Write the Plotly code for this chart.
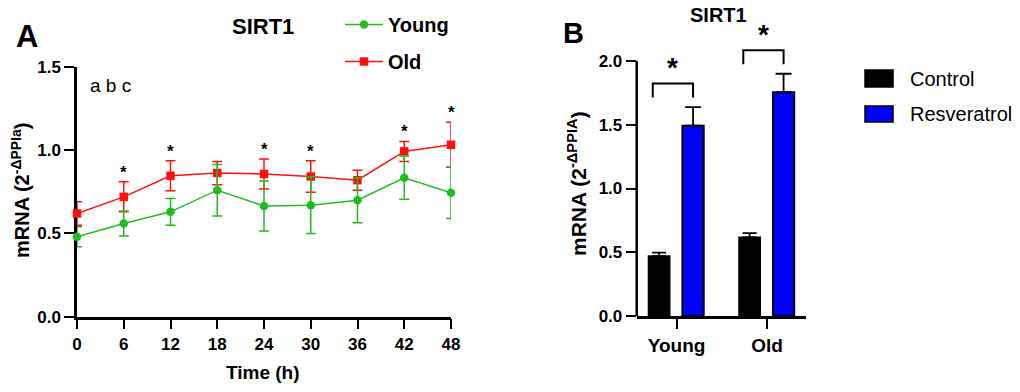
import plotly.graph_objects as go

# ---------------- data ----------------
times = [0, 6, 12, 18, 24, 30, 36, 42, 48]
young_mean = [0.48, 0.56, 0.63, 0.76, 0.665, 0.67, 0.70, 0.835, 0.745]
young_err = [0.06, 0.075, 0.08, 0.155, 0.15, 0.17, 0.135, 0.13, 0.155]
old_mean = [0.62, 0.72, 0.847, 0.863, 0.857, 0.842, 0.82, 0.993, 1.033]
old_err = [0.07, 0.09, 0.09, 0.07, 0.09, 0.095, 0.06, 0.06, 0.135]
sig_times = [6, 12, 24, 30, 42, 48]

groups = ["Young", "Old"]
control_mean = [0.47, 0.617]
control_err = [0.027, 0.033]
resv_mean = [1.493, 1.755]
resv_err = [0.145, 0.145]

a_yticks = [0, 0.5, 1.0, 1.5]
b_yticks = [0, 0.5, 1.0, 1.5, 2.0]

# ---------------- style ----------------
FONT = "Liberation Sans, Arial, sans-serif"
GREEN = "#22bb22"
RED = "#ff1010"
BLUE = "#0000ff"
W, H = 1020, 392


def px(x):
    return x / W


def py(y):
    return 1 - y / H


def bold(size):
    return dict(family=FONT, size=size, color="black", weight="bold")


def reg(size):
    return dict(family=FONT, size=size, color="black")


fig = go.Figure()

# Panel A lines
fig.add_trace(go.Scatter(
    x=times, y=old_mean, name="Old", mode="lines+markers",
    line=dict(color=RED, width=1.5),
    marker=dict(symbol="square", size=8.5, color=RED),
    error_y=dict(type="data", array=old_err, color=RED, thickness=1.5, width=5),
    cliponaxis=False, xaxis="x", yaxis="y", legendrank=2, legendgroup="old",
))
fig.add_trace(go.Scatter(
    x=times, y=young_mean, name="Young", mode="lines+markers",
    line=dict(color=GREEN, width=1.5),
    marker=dict(symbol="circle", size=8.5, color=GREEN),
    error_y=dict(type="data", array=young_err, color=GREEN, thickness=1.5, width=5),
    cliponaxis=False, xaxis="x", yaxis="y", legendrank=1, legendgroup="young",
))

# Panel B bars
BAR_W = 0.235
OFF_C = -0.31
OFF_R = 0.065
gx = list(range(len(groups)))
fig.add_trace(go.Bar(
    x=gx, y=control_mean, name="Control", width=BAR_W, offset=OFF_C,
    marker=dict(color="black", line=dict(color="black", width=1.5)),
    error_y=dict(type="data", symmetric=False, array=control_err,
                 arrayminus=[0] * len(groups), color="black", thickness=1.8, width=7),
    xaxis="x2", yaxis="y2", showlegend=False,
))
fig.add_trace(go.Bar(
    x=gx, y=resv_mean, name="Resveratrol", width=BAR_W, offset=OFF_R,
    marker=dict(color=BLUE, line=dict(color="black", width=2)),
    error_y=dict(type="data", symmetric=False, array=resv_err,
                 arrayminus=[0] * len(groups), color="black", thickness=1.8, width=8),
    xaxis="x2", yaxis="y2", showlegend=False,
))

annotations = []
shapes = []

# asterisks panel A
for t in sig_times:
    i = times.index(t)
    annotations.append(dict(x=t, y=old_mean[i] + old_err[i] - 0.012, xref="x", yref="y",
                            text="*", showarrow=False, xanchor="center", yanchor="bottom",
                            font=bold(17)))

# brackets & asterisks panel B
for i in gx:
    top = max(control_mean[i] + control_err[i], resv_mean[i] + resv_err[i])
    xl = i + OFF_C + BAR_W / 2 - 0.07
    xr = i + OFF_R + BAR_W / 2
    yb = top + 0.075
    yt = top + 0.185
    shapes.append(dict(type="path", xref="x2", yref="y2",
                       path=f"M{xl},{yb} L{xl},{yt} L{xr},{yt} L{xr},{yb}",
                       line=dict(color="black", width=2)))
    annotations.append(dict(x=(xl + xr) / 2, y=yt - 0.015, xref="x2", yref="y2",
                            text="*", showarrow=False, xanchor="center", yanchor="bottom",
                            font=bold(28)))

# y axis line for panel B (only up to 2.0)
shapes.append(dict(type="line", xref="x2 domain", yref="y2", x0=0, x1=0,
                   y0=0, y1=b_yticks[-1], line=dict(color="black", width=2.5)))

# manual legend for panel B
leg_items = [("Control", "black", 70, 87), ("Resveratrol", BLUE, 106, 122)]
for name, col, y0, y1 in leg_items:
    shapes.append(dict(type="rect", xref="paper", yref="paper",
                       x0=px(865), x1=px(893), y0=py(y1), y1=py(y0),
                       fillcolor=col, line=dict(color="black", width=1.5)))
    annotations.append(dict(x=px(908), y=py((y0 + y1) / 2), xref="paper", yref="paper",
                            text=name, showarrow=False, xanchor="left", yanchor="middle",
                            font=reg(20)))

# text labels
annotations += [
    dict(x=px(27), y=py(37), text="A", font=bold(31)),
    dict(x=px(263), y=py(27), text="SIRT1", font=bold(22)),
    dict(x=px(573), y=py(33), text="B", font=bold(29)),
    dict(x=px(718), y=py(15), text="SIRT1", font=bold(20)),
    dict(x=px(263), y=py(372), text="Time (h)", font=bold(19)),
    dict(x=px(20), y=py(191), text="mRNA (2<sup>-ΔPPIa</sup>)", font=bold(20), textangle=-90),
    dict(x=px(577), y=py(184), text="mRNA (2<sup>-ΔPPIA</sup>)", font=bold(21), textangle=-90),
]
for a in annotations:
    a.setdefault("xref", "paper")
    a.setdefault("yref", "paper")
    a.setdefault("showarrow", False)
    a.setdefault("xanchor", "center")
    a.setdefault("yanchor", "middle")
annotations.append(dict(x=1.4, y=1.39, xref="x", yref="y", text="a b c", showarrow=False,
                        xanchor="left", yanchor="middle", font=reg(19)))

axis_common = dict(showgrid=False, zeroline=False, ticks="outside", ticklen=10,
                   tickwidth=2, tickcolor="black", linecolor="black", linewidth=2.5,
                   automargin=False)

fig.update_layout(
    template="none",
    width=W, height=H, margin=dict(l=0, r=0, t=0, b=0, autoexpand=False),
    paper_bgcolor="white", plot_bgcolor="white",
    font=dict(family=FONT, color="black"),
    xaxis=dict(domain=[px(77), px(451)], range=[0, 48], tickvals=times,
               showline=True, tickfont=bold(17), anchor="y", layer="below traces",
               **axis_common),
    yaxis=dict(domain=[py(316.7), py(67)], range=[0, 1.5], tickvals=a_yticks,
               tickformat=".1f", showline=True, tickfont=bold(17), anchor="x",
               layer="below traces", **axis_common),
    xaxis2=dict(domain=[px(636.7), px(806)], range=[-0.44, 1.43], tickvals=gx,
                ticktext=groups, showline=True, tickfont=bold(19), anchor="y2",
                **axis_common),
    yaxis2=dict(domain=[py(316), py(316 - 2.45 * 127.5)], range=[0, 2.45],
                tickvals=b_yticks, tickformat=".1f", showline=False,
                tickfont=bold(17), anchor="x2", **axis_common),
    barmode="overlay",
    showlegend=True,
    legend=dict(x=px(340), y=py(5), xanchor="left", yanchor="top",
                font=bold(20), bgcolor="rgba(0,0,0,0)", itemwidth=38,
                tracegroupgap=8, traceorder="grouped", borderwidth=0),
    shapes=shapes,
    annotations=annotations,
)

fig.write_html("out.html", config={"displayModeBar": False},
               post_script="document.body.style.margin='0px';")
